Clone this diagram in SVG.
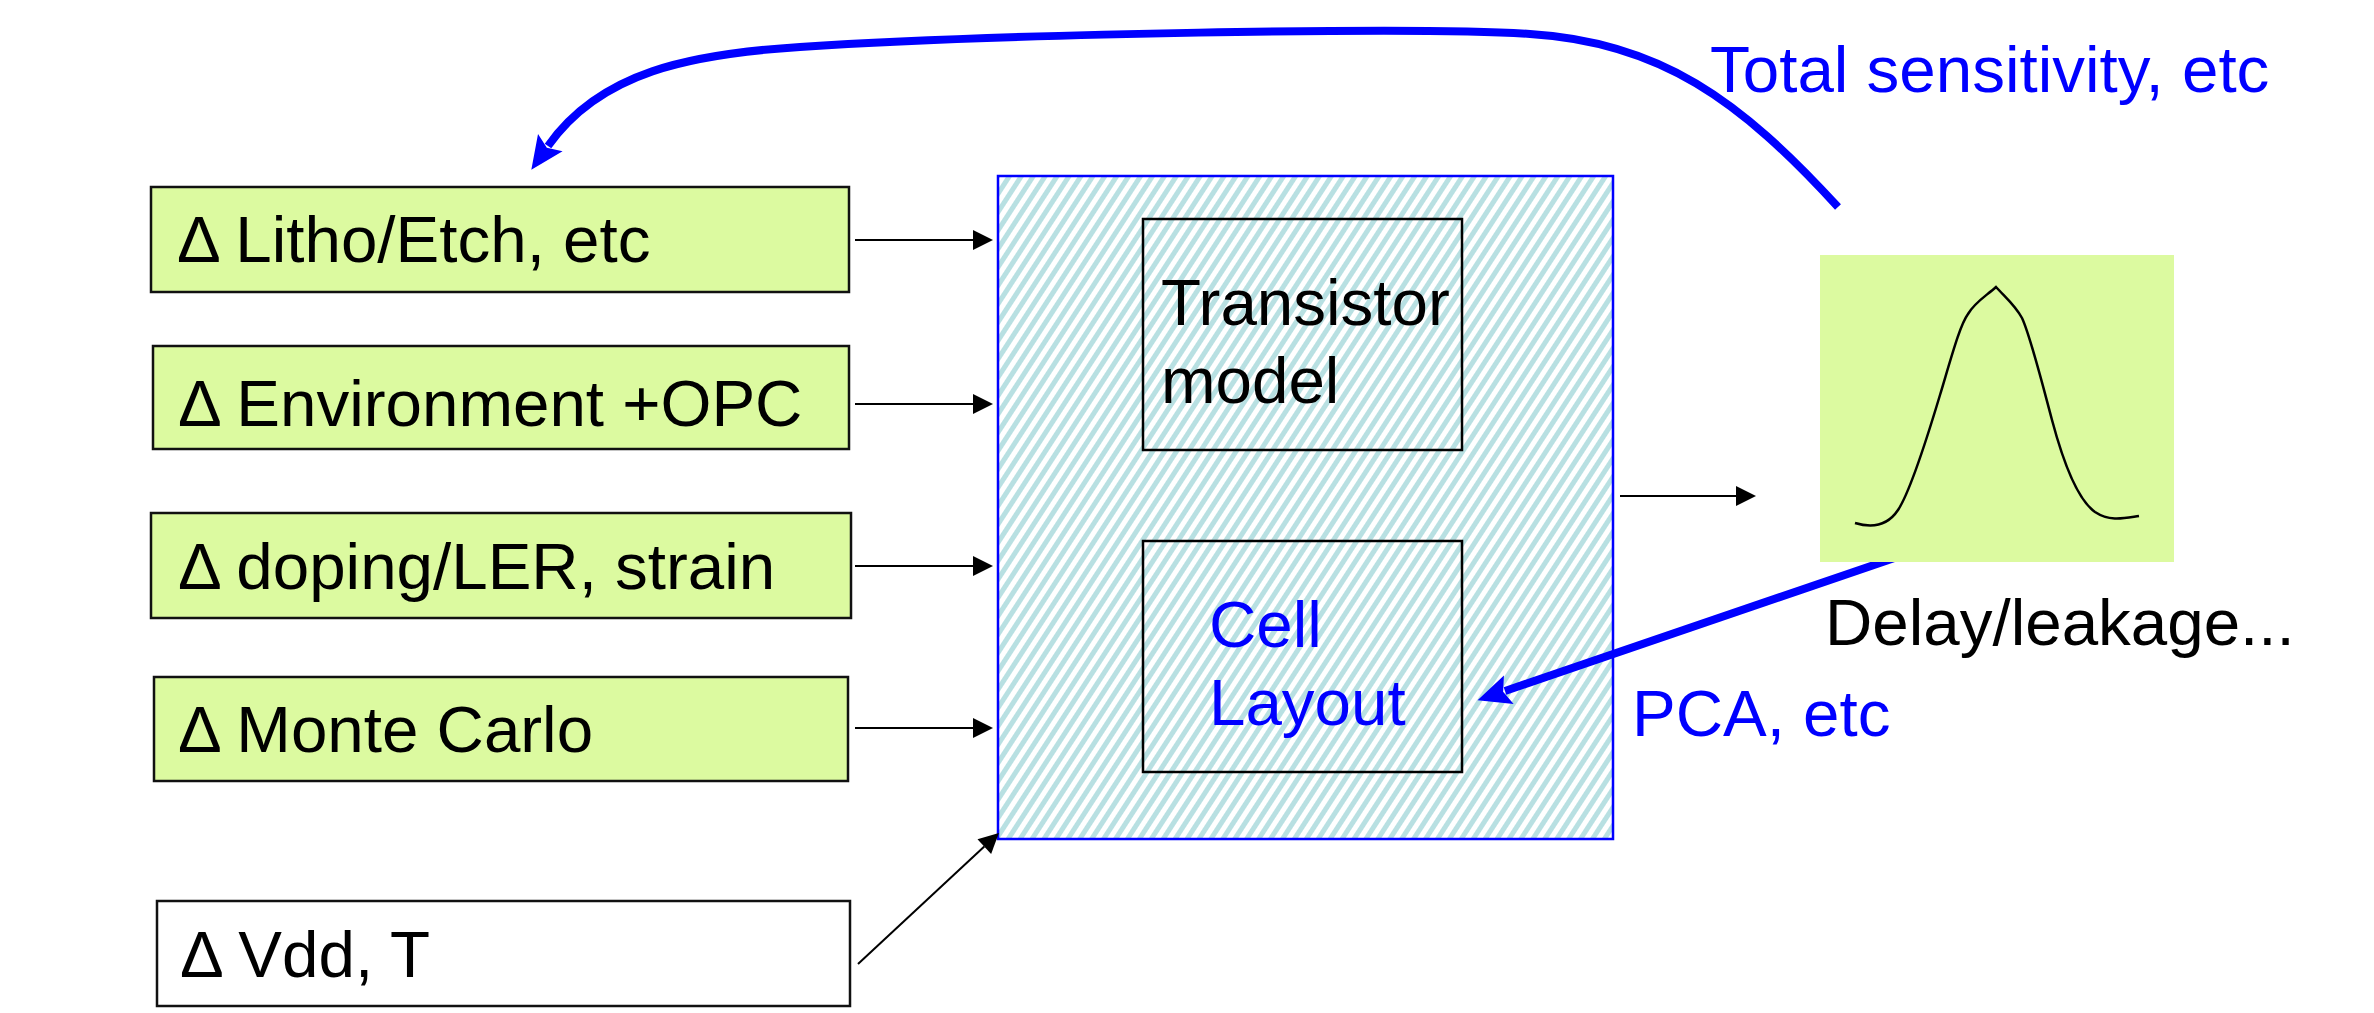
<svg xmlns="http://www.w3.org/2000/svg" width="2374" height="1013" viewBox="0 0 2374 1013">
  <style>
    .lbl { font-family: "Liberation Sans", Arial, sans-serif; font-size: 65.5px; fill: #000; }
    .blue { fill: #0000ff; }
    .inbox { fill: #dcfaa0; stroke: #111; stroke-width: 2.5; }
    .plain { fill: #fff; stroke: #111; stroke-width: 2.5; }
    .sub { fill: none; stroke: #000; stroke-width: 2.5; }
    .thin { fill: none; stroke: #000; stroke-width: 2; }
    .fb { fill: none; stroke: #0000ff; stroke-width: 8; }
  </style>
  <defs>
    <pattern id="hatch" patternUnits="userSpaceOnUse" width="10" height="10" patternTransform="rotate(33)">
      <rect width="10" height="10" fill="#ffffff"/>
      <rect width="5" height="10" fill="#b8e0e2"/>
    </pattern>
    <marker id="ah" markerUnits="userSpaceOnUse" markerWidth="24" markerHeight="24" viewBox="0 -12 24 24" refX="0" refY="0" orient="auto" overflow="visible">
      <path d="M0,-10 L20,0 L0,10 Z" fill="#000"/>
    </marker>
    <marker id="ahb" markerUnits="userSpaceOnUse" markerWidth="40" markerHeight="40" viewBox="-5 -20 40 40" refX="0" refY="0" orient="auto" overflow="visible">
      <path d="M-4,-15 L29,0 L-4,15 L2,0 Z" fill="#0000ff"/>
    </marker>
  </defs>

  <!-- input variations -->
  <g id="litho">
    <rect class="inbox" x="151" y="187" width="698" height="105"/>
    <text class="lbl" x="177" y="262">Δ Litho/Etch, etc</text>
  </g>
  <g id="environment">
    <rect class="inbox" x="153" y="346" width="696" height="103"/>
    <text class="lbl" x="178" y="426">Δ Environment +OPC</text>
  </g>
  <g id="doping">
    <rect class="inbox" x="151" y="513" width="700" height="105"/>
    <text class="lbl" x="178" y="589">Δ doping/LER, strain</text>
  </g>
  <g id="montecarlo">
    <rect class="inbox" x="154" y="677" width="694" height="104"/>
    <text class="lbl" x="178" y="752">Δ Monte Carlo</text>
  </g>
  <g id="vdd">
    <rect class="plain" x="157" y="901" width="693" height="105"/>
    <text class="lbl" x="180" y="977">Δ Vdd, T</text>
  </g>

  <!-- cell characterisation block -->
  <g id="cell-block">
    <rect x="998" y="176" width="615" height="663" fill="url(#hatch)" stroke="#0000ff" stroke-width="2.5"/>
  </g>
  <g id="transistor-model">
    <rect class="sub" x="1143" y="219" width="319" height="231"/>
    <text class="lbl" x="1161" y="325">Transistor</text>
    <text class="lbl" x="1161" y="403">model</text>
  </g>
  <g id="cell-layout">
    <rect class="sub" x="1143" y="541" width="319" height="231"/>
    <text class="lbl blue" x="1209" y="647">Cell</text>
    <text class="lbl blue" x="1209" y="725">Layout</text>
  </g>

  <!-- connectors -->
  <g id="connectors">
    <line class="thin" x1="855" y1="240" x2="973" y2="240" marker-end="url(#ah)"/>
    <line class="thin" x1="855" y1="404" x2="973" y2="404" marker-end="url(#ah)"/>
    <line class="thin" x1="855" y1="566" x2="973" y2="566" marker-end="url(#ah)"/>
    <line class="thin" x1="855" y1="728" x2="973" y2="728" marker-end="url(#ah)"/>
    <line class="thin" x1="858" y1="964" x2="984.3" y2="846.6" marker-end="url(#ah)"/>
    <line class="thin" x1="1620" y1="496" x2="1736" y2="496" marker-end="url(#ah)"/>
    <!-- feedback: total sensitivity back to the inputs -->
    <path class="fb" d="M1838,207 C1740,100 1660,42 1530,34 C1420,26 1000,34 800,47 C690,54 600,72 548,146" marker-end="url(#ahb)"/>
    <!-- feedback: PCA back to the cell layout -->
    <line class="fb" x1="1912" y1="552" x2="1505" y2="691" marker-end="url(#ahb)"/>
  </g>

  <!-- output distribution -->
  <g id="distribution">
    <rect x="1820" y="255" width="354" height="307" fill="#dcfaa0"/>
    <path d="M1855,523 C1868,527 1886,528 1898,510 C1910,492 1925,445 1940,395 C1952,355 1960,325 1968,314 C1975,302 1986,296 1996,287 C2005,297 2015,305 2022,318 C2030,335 2040,375 2052,420 C2064,465 2078,500 2095,512 C2110,522 2125,518 2139,516" fill="none" stroke="#000" stroke-width="2.5"/>
    <text class="lbl" x="1825" y="645">Delay/leakage...</text>
  </g>

  <!-- feedback labels -->
  <text class="lbl blue" x="1710" y="92">Total sensitivity, etc</text>
  <text class="lbl blue" x="1632" y="736">PCA, etc</text>
</svg>
